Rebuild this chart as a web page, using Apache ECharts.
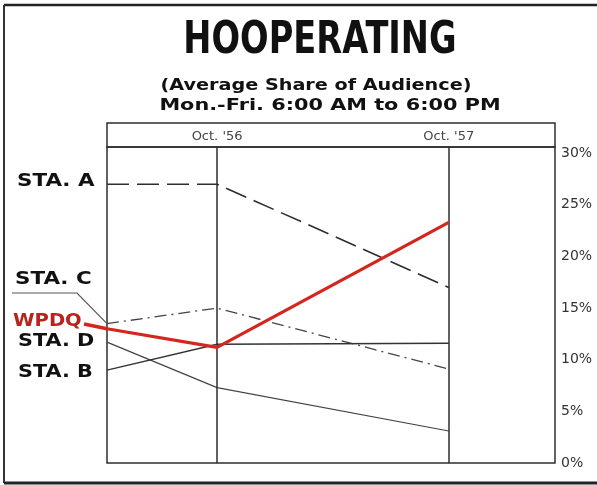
<!DOCTYPE html>
<html>
<head>
<meta charset="utf-8">
<script src="https://cdn.jsdelivr.net/npm/echarts@6/dist/echarts.min.js"></script>
<style>
  html, body { margin: 0; padding: 0; background: #fff; }
  #hooper { width: 597px; height: 485px; }
</style>
</head>
<body>
<div id="hooper"></div>
<script>
// Hooperating - average share of audience
const xTickLabels = ["Oct. '56", "Oct. '57"];
const monthsFromOct56 = [-5.7, 0, 12];
const yTicks = [0, 5, 10, 15, 20, 25, 30];

const staA = [27.0, 27.0, 17.0];
const wpdq = [13.0, 11.2, 23.3];
const staC = [13.5, 15.0, 9.1];
const staD = [11.7, 7.3, 3.1];
const staB = [9.0, 11.5, 11.6];

const pts = vals => vals.map((v, i) => [monthsFromOct56[i], v]);
const ink = '#2e2e2e';
const red = '#d3261e';

const chart = echarts.init(document.getElementById('hooper'));

const labelFont = 'bold 17px "DejaVu Sans"';

const option = {
    animation: false,
    grid: {
        left: 107, right: 42, top: 147, bottom: 22,
        show: true, borderColor: ink, borderWidth: 1.5
    },
    xAxis: {
        type: 'value',
        position: 'top',
        min: -5.7,
        max: 17.5,
        axisLine: { show: false },
        axisTick: { show: false },
        splitLine: { show: false },
        axisLabel: {
            customValues: [monthsFromOct56[1], monthsFromOct56[2]],
            formatter: v => (v === 0 ? xTickLabels[0] : xTickLabels[1]),
            margin: 4,
            fontSize: 13,
            color: '#444',
            fontFamily: 'DejaVu Sans'
        }
    },
    yAxis: {
        type: 'value',
        position: 'right',
        min: 0,
        max: 30.6,
        axisLine: { show: false },
        axisTick: { show: false },
        splitLine: { show: false },
        axisLabel: {
            customValues: yTicks,
            formatter: '{value}%',
            margin: 6,
            fontSize: 14,
            color: '#333',
            fontFamily: 'DejaVu Sans'
        }
    },
    series: [
        {
            name: 'STA. A', type: 'line', data: pts(staA), symbol: 'none',
            lineStyle: { color: ink, width: 1.6, type: [22, 8] },
            markLine: {
                silent: true, symbol: 'none', label: { show: false },
                lineStyle: { color: ink, width: 1.5, type: 'solid' },
                data: [{ xAxis: monthsFromOct56[1] }, { xAxis: monthsFromOct56[2] }]
            }
        },
        {
            name: 'STA. C', type: 'line', data: pts(staC), symbol: 'none',
            lineStyle: { color: '#444', width: 1.3, type: [12, 5, 2, 5] }
        },
        {
            name: 'STA. D', type: 'line', data: pts(staD), symbol: 'none',
            lineStyle: { color: '#444', width: 1.2 }
        },
        {
            name: 'STA. B', type: 'line', data: pts(staB), symbol: 'none',
            lineStyle: { color: '#333', width: 1.4 }
        },
        {
            name: 'WPDQ', type: 'line', data: pts(wpdq), symbol: 'none', z: 5,
            lineStyle: { color: red, width: 3.2 }
        }
    ]
};

chart.setOption(option);

// leader lines start at the first data points
const cStart = chart.convertToPixel({ gridIndex: 0 }, pts(staC)[0]);
const wStart = chart.convertToPixel({ gridIndex: 0 }, pts(wpdq)[0]);

chart.setOption({
    graphic: [
        // outer frame
        { type: 'line', shape: { x1: 4, y1: 5, x2: 597, y2: 5 }, style: { stroke: '#222', lineWidth: 2.5 } },
        { type: 'line', shape: { x1: 4, y1: 5, x2: 4, y2: 483 }, style: { stroke: '#333', lineWidth: 2 } },
        { type: 'line', shape: { x1: 4, y1: 483, x2: 597, y2: 483 }, style: { stroke: '#222', lineWidth: 3 } },
        // header strip over the plot
        { type: 'rect', shape: { x: 107, y: 123, width: 448, height: 24 },
          style: { fill: 'none', stroke: ink, lineWidth: 1.5 } },
        // titles
        { type: 'text', x: 320, y: 42, scaleX: 1.1, scaleY: 1.3,
          style: { text: 'HOOPERATING', font: 'bold 34px "DejaVu Sans Condensed"', fill: '#111',
                   align: 'center', verticalAlign: 'middle' } },
        { type: 'text', x: 316, y: 86, scaleX: 1.2,
          style: { text: '(Average Share of Audience)', font: 'bold 16px "DejaVu Sans"', fill: '#111',
                   align: 'center', verticalAlign: 'middle' } },
        { type: 'text', x: 330, y: 106, scaleX: 1.3,
          style: { text: 'Mon.-Fri. 6:00 AM to 6:00 PM', font: 'bold 16px "DejaVu Sans"', fill: '#111',
                   align: 'center', verticalAlign: 'middle' } },
        // station labels
        { type: 'text', x: 17, y: 182, scaleX: 1.26,
          style: { text: 'STA. A', font: labelFont, fill: '#111', verticalAlign: 'middle' } },
        { type: 'text', x: 15, y: 280, scaleX: 1.26,
          style: { text: 'STA. C', font: labelFont, fill: '#111', verticalAlign: 'middle' } },
        { type: 'text', x: 13, y: 322, scaleX: 1.15,
          style: { text: 'WPDQ', font: labelFont, fill: '#b8231b', verticalAlign: 'middle' } },
        { type: 'text', x: 18, y: 342, scaleX: 1.22,
          style: { text: 'STA. D', font: labelFont, fill: '#111', verticalAlign: 'middle' } },
        { type: 'text', x: 18, y: 373, scaleX: 1.22,
          style: { text: 'STA. B', font: labelFont, fill: '#111', verticalAlign: 'middle' } },
        // leaders
        { type: 'polyline', shape: { points: [[12, 293], [77, 293], cStart] },
          style: { stroke: '#555', lineWidth: 1.2, fill: 'none' } },
        { type: 'line', shape: { x1: 84, y1: 324, x2: wStart[0], y2: wStart[1] },
          style: { stroke: red, lineWidth: 3.4 } }
    ]
});
</script>
</body>
</html>
